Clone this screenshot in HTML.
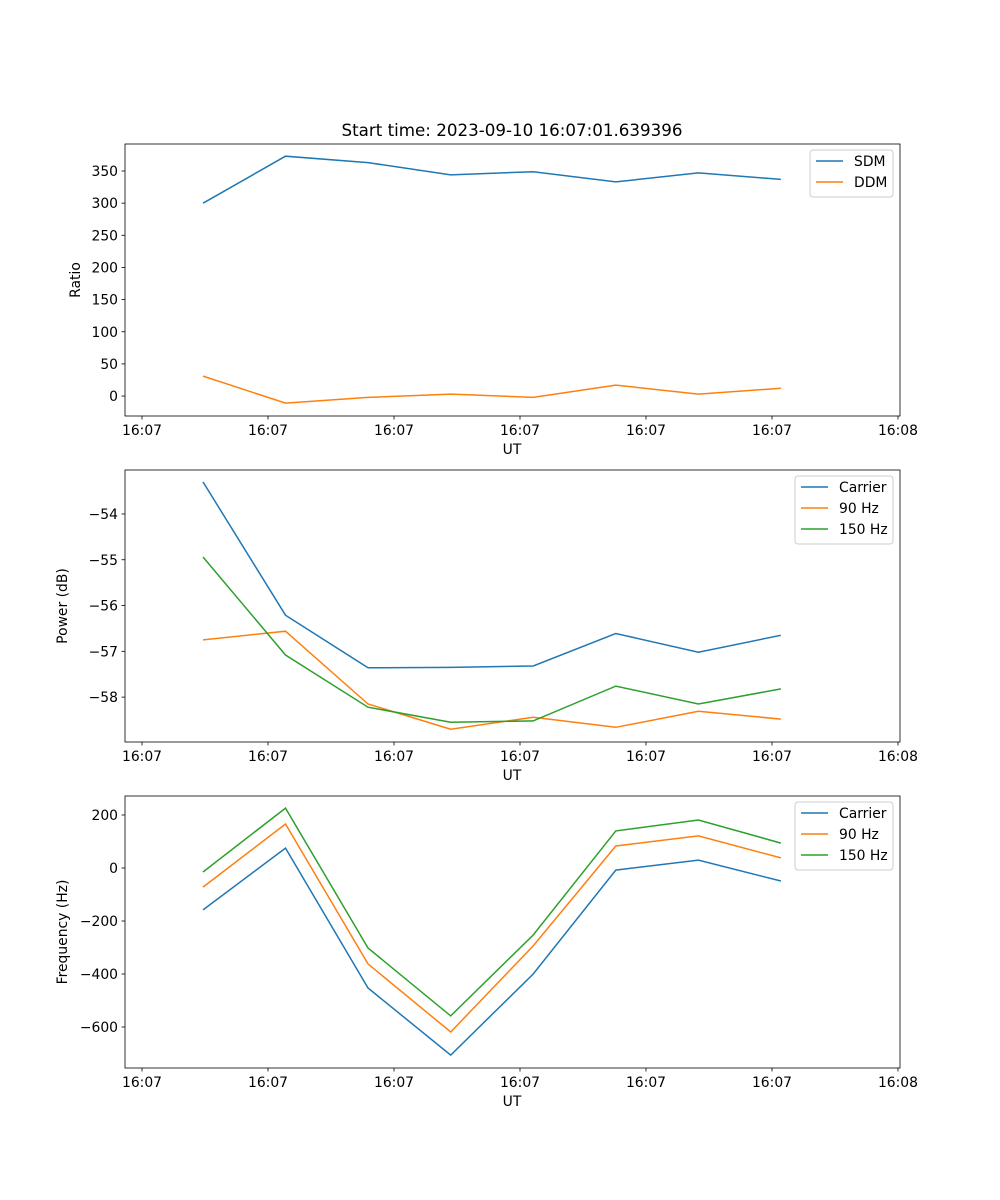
<!DOCTYPE html>
<html><head><meta charset="utf-8"><style>
body{margin:0;background:#fff}
svg{display:block;font-family:"DejaVu Sans","Liberation Sans",sans-serif}
</style></head><body>
<svg id="fig" width="1000" height="1200" viewBox="0 0 1000 1200">
<text x="512" y="136" font-size="16.7" text-anchor="middle">Start time: 2023-09-10 16:07:01.639396</text>
</svg>
<script>
const xTickLabels=["16:07","16:07","16:07","16:07","16:07","16:07","16:08"];
const xTickVals=[0,10,20,30,40,50,60];
const times=[4.84,11.39,17.94,24.5,31.05,37.6,44.16,50.71];
const sdm=[300,373,363,344,349,333,347,337];
const ddm=[31,-11,-2,3,-2,17,3,12];
const pCarrier=[-53.30,-56.21,-57.36,-57.35,-57.32,-56.61,-57.02,-56.65];
const p90=[-56.75,-56.56,-58.15,-58.70,-58.44,-58.66,-58.31,-58.48];
const p150=[-54.94,-57.08,-58.22,-58.55,-58.52,-57.76,-58.15,-57.82];
const fCarrier=[-158,75,-453,-706,-400,-8,30,-49];
const f90=[-72,166,-362,-619,-294,83,121,38];
const f150=[-15,226,-302,-558,-253,140,181,94];
const ticks1=[0,50,100,150,200,250,300,350];
const ticks2=[-54,-55,-56,-57,-58];
const ticks3=[200,0,-200,-400,-600];
const C=["#1f77b4","#ff7f0e","#2ca02c"];
const NS="http://www.w3.org/2000/svg";
const svg=document.getElementById('fig');
function mk(t,a,p){const e=document.createElementNS(NS,t);for(const k in a)e.setAttribute(k,a[k]);(p||svg).appendChild(e);return e;}
const L=125,R=900,X0=-1.35,X1=60.16;
function xs(v){return L+(v-X0)/(X1-X0)*(R-L);}
function panel(name,top,bot,y0,y1,yt,series,labels,ylabel,legX,legW){
  const g=mk('g',{});
  
  
  const ys=v=>bot-(v-y0)/(y1-y0)*(bot-top);
  series.forEach((s,i)=>{
    const pts=times.map((t,j)=>xs(t).toFixed(1)+','+ys(s[j]).toFixed(1)).join(' ');
    const pl=mk('polyline',{points:pts,fill:'none',stroke:C[i],'stroke-width':1.5},g);
    
    
  });
  const fr=mk('rect',{x:L,y:top,width:R-L,height:bot-top,fill:'none',stroke:'#000','stroke-width':0.8},g);
  
  
  xTickVals.forEach((v,i)=>{
    const x=xs(v);
    mk('line',{x1:x,x2:x,y1:bot,y2:bot+3.5,stroke:'#000','stroke-width':0.8},g);
    const t=mk('text',{x:x,y:bot+19,'font-size':13.9,'text-anchor':'middle'},g);
    t.textContent=xTickLabels[i];
    
    
  });
  yt.forEach(v=>{
    const y=ys(v);
    mk('line',{x1:L-3.5,x2:L,y1:y,y2:y,stroke:'#000','stroke-width':0.8},g);
    const t=mk('text',{x:L-7,y:y+5,'font-size':13.9,'text-anchor':'end'},g);
    t.textContent=String(v).replace('-','\u2212');
    
    
  });
  const xl=mk('text',{x:512,y:bot+38,'font-size':13.9,'text-anchor':'middle'},g);
  xl.textContent='UT';
  
  
  const ly=(top+bot)/2;
  const ylx=ylabel.length>6?67:80;
  const yl=mk('text',{x:ylx,y:ly,'font-size':13.9,'text-anchor':'middle',transform:`rotate(-90 ${ylx} ${ly})`},g);
  yl.textContent=ylabel;
  
  
  const lg=mk('g',{},g);
  
  
  mk('rect',{x:legX,y:top+6,width:legW,height:labels.length*21+5,rx:3,fill:'#fff','fill-opacity':0.8,stroke:'#ccc'},lg);
  labels.forEach((lab,i)=>{
    const y=top+17+i*21;
    mk('line',{x1:legX+6,x2:legX+33,y1:y,y2:y,stroke:C[i],'stroke-width':1.5},lg);
    const t=mk('text',{x:legX+44,y:y+5,'font-size':13.9},lg);
    t.textContent=lab;
    
    
  });
}
panel('ratio',144,416,-31,392,ticks1,[sdm,ddm],['SDM','DDM'],'Ratio',810,83);
panel('power',470,742,-58.98,-53.04,ticks2,[pCarrier,p90,p150],['Carrier','90 Hz','150 Hz'],'Power (dB)',795,98);
panel('frequency',796,1068,-754.7,271.7,ticks3,[fCarrier,f90,f150],['Carrier','90 Hz','150 Hz'],'Frequency (Hz)',795,98);
</script>
</body></html>
